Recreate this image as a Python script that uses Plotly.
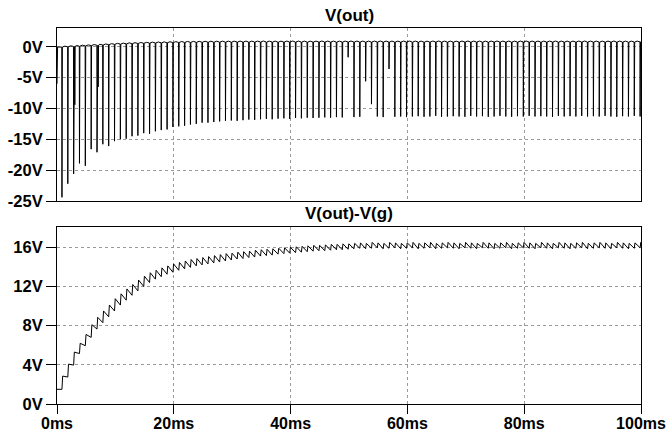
import plotly.graph_objects as go

# ---------------- data ----------------
period_ms = 1.0          # switching period
first_spike_ms = 0.85    # time of first switching event
n_cycles = 100

x_tickvals = [0, 20, 40, 60, 80, 100]
x_ticktext = ["0ms", "20ms", "40ms", "60ms", "80ms", "100ms"]
top_tickvals = [0, -5, -10, -15, -20, -25]
top_ticktext = ["0V", "-5V", "-10V", "-15V", "-20V", "-25V"]
bot_tickvals = [0, 4, 8, 12, 16]
bot_ticktext = ["0V", "4V", "8V", "12V", "16V"]

# V(out): value at t=0, spike minimum and top level per cycle
vout_start = -6.0
vout_min = [
    -24.4, -22.2, -20.6, -18.9, -19.3, -16.6, -17.1, -15.8, -16.1, -15.3,
    -15.0, -14.9, -14.5, -14.4, -14.0, -14.1, -13.7, -13.5, -13.4, -13.0,
    -12.9, -12.8, -12.6, -12.5, -12.3, -12.3, -12.2, -12.1, -12.0, -11.95,
    -12.0, -11.9, -11.8, -11.85, -11.75, -11.7, -11.75, -11.65, -11.6, -11.7,
    -11.55, -11.6, -11.5, -11.55, -11.5, -11.45, -11.5, -11.4, -11.45, -1.7,
    -11.4, -11.35, -5.6, -9.3, -11.3, -11.4, -3.6, -11.35, -11.3, -11.4,
    -11.3, -11.25, -11.35, -11.3, -11.2, -11.35, -11.3, -11.25, -11.3, -11.35,
    -11.2, -11.3, -11.25, -11.35, -11.3, -11.2, -11.3, -11.35, -11.25, -11.3,
    -11.2, -11.3, -11.25, -11.3, -11.35, -11.2, -11.3, -11.25, -11.3, -11.2,
    -11.3, -11.25, -11.3, -11.2, -11.3, -11.35, -11.25, -11.3, -11.2, -11.3,
]
vout_top = [
    -0.05, 0.0, 0.05, 0.1, 0.15, 0.2, 0.25, 0.3, 0.35, 0.4,
    0.44, 0.48, 0.51, 0.54, 0.57, 0.6, 0.62, 0.64, 0.66, 0.68,
    0.7, 0.71, 0.72, 0.73, 0.74, 0.75, 0.75, 0.76, 0.76, 0.76,
    0.77, 0.77, 0.76, 0.77, 0.78, 0.77, 0.77, 0.76, 0.77, 0.78,
    0.77, 0.77, 0.76, 0.77, 0.78, 0.77, 0.77, 0.76, 0.77, 0.78,
    0.77, 0.77, 0.76, 0.77, 0.78, 0.77, 0.77, 0.76, 0.77, 0.78,
    0.77, 0.77, 0.76, 0.77, 0.78, 0.77, 0.77, 0.76, 0.77, 0.78,
    0.77, 0.77, 0.76, 0.77, 0.78, 0.77, 0.77, 0.76, 0.77, 0.78,
    0.77, 0.77, 0.76, 0.77, 0.78, 0.77, 0.77, 0.76, 0.77, 0.78,
    0.77, 0.77, 0.76, 0.77, 0.78, 0.77, 0.77, 0.76, 0.77, 0.78,
]
# extra partial dips drawn right after a few early spikes (cycle -> V)
vout_second_dip = {2: -9.4, 6: -6.5}

# V(out)-V(g): start value, value just before / just after each switching event
diff_start = 1.5
diff_trough = [
    1.5, 2.75, 3.97, 5.15, 5.95, 6.8, 7.65, 8.3, 8.9, 9.5,
    10.1, 10.6, 11.1, 11.55, 12.0, 12.4, 12.75, 13.0, 13.25, 13.45,
    13.65, 13.8, 13.95, 14.1, 14.2, 14.3, 14.4, 14.5, 14.6, 14.7,
    14.8, 14.85, 14.95, 15.0, 15.1, 15.15, 15.2, 15.3, 15.35, 15.4,
    15.45, 15.5, 15.55, 15.6, 15.65, 15.65, 15.7, 15.75, 15.75, 15.8,
    15.85, 15.9, 15.85, 15.9, 15.95, 15.85, 15.9, 15.95, 15.85, 15.9,
    15.95, 15.85, 15.9, 15.95, 15.85, 15.9, 15.95, 15.9, 15.85, 15.95,
    15.9, 15.85, 15.95, 15.9, 15.85, 15.9, 15.95, 15.85, 15.9, 15.95,
    15.9, 15.85, 15.95, 15.9, 15.85, 15.95, 15.9, 15.85, 15.9, 15.95,
    15.85, 15.9, 15.95, 15.9, 15.85, 15.95, 15.9, 15.85, 15.9, 15.95,
]
diff_peak = [
    2.85, 4.07, 5.3, 6.2, 7.1, 8.1, 8.85, 9.5, 10.1, 10.75,
    11.25, 11.75, 12.2, 12.65, 13.05, 13.4, 13.65, 13.9, 14.1, 14.3,
    14.45, 14.6, 14.75, 14.85, 14.95, 15.05, 15.15, 15.25, 15.35, 15.4,
    15.5, 15.55, 15.6, 15.7, 15.75, 15.8, 15.85, 15.9, 15.95, 16.0,
    16.05, 16.1, 16.15, 16.2, 16.2, 16.25, 16.3, 16.3, 16.35, 16.35,
    16.4, 16.45, 16.4, 16.5, 16.45, 16.4, 16.5, 16.45, 16.4, 16.45,
    16.5, 16.4, 16.45, 16.5, 16.4, 16.45, 16.5, 16.45, 16.4, 16.5,
    16.45, 16.4, 16.5, 16.45, 16.4, 16.45, 16.5, 16.4, 16.45, 16.5,
    16.45, 16.4, 16.5, 16.45, 16.4, 16.5, 16.45, 16.4, 16.45, 16.5,
    16.4, 16.45, 16.5, 16.45, 16.4, 16.5, 16.45, 16.4, 16.45, 16.5,
]
diff_end = 16.3

# ---------------- build waveforms ----------------
t_out, v_out = [0.0, 0.1], [vout_start, vout_top[0]]
t_diff, v_diff = [0.0], [diff_start]
for k in range(n_cycles):
    tk = first_spike_ms + k * period_ms
    top = vout_top[k]
    t_out += [tk - 0.03, tk, tk + 0.07]
    v_out += [top, vout_min[k], top]
    if k in vout_second_dip:
        t_out += [tk + 0.15, tk + 0.2, tk + 0.26]
        v_out += [top, vout_second_dip[k], top]
    t_out += [tk + 0.5]
    v_out += [top + 0.15]
    t_diff += [tk, tk + 0.12]
    v_diff += [diff_trough[k], diff_peak[k]]
t_out.append(100.0)
v_out.append(vout_top[-1])
t_diff.append(100.0)
v_diff.append(diff_end)

# ---------------- figure ----------------
W, H = 667, 435
xl, xr = 57, 641          # plot area left/right (px)
yt, yb = 28, 404          # plot area top/bottom (px)
top_panel_bottom = 201
bot_panel_top = 227
area_h = yb - yt

def fy(p):
    """pixel row -> fraction of the plot area (0 = bottom)"""
    return (yb - p) / area_h

fig = go.Figure()
fig.add_trace(go.Scatter(x=t_out, y=v_out, mode="lines", xaxis="x", yaxis="y",
                         line=dict(color="#000000", width=1), hoverinfo="skip"))
fig.add_trace(go.Scatter(x=t_diff, y=v_diff, mode="lines", xaxis="x2", yaxis="y2",
                         line=dict(color="#000000", width=1), hoverinfo="skip"))

tick_font = dict(family="Liberation Sans, Arial, sans-serif", size=16.5, color="#000000", weight="bold")
xtick_font = dict(family="Liberation Sans, Arial, sans-serif", size=16, color="#000000", weight="bold")
grid = dict(showgrid=True, gridcolor="#9a9a9a", gridwidth=1, griddash="3px,3px")
frame = dict(showline=True, linecolor="#000000", linewidth=1, mirror=True,
             zeroline=False, automargin=False)

fig.update_layout(
    width=W, height=H,
    margin=dict(l=xl, r=W - xr, t=yt, b=H - yb, autoexpand=False),
    paper_bgcolor="white", plot_bgcolor="white", showlegend=False,
    xaxis=dict(domain=[0, 1], range=[0, 100], anchor="y",
               tickvals=x_tickvals, ticktext=x_ticktext, showticklabels=False,
               ticks="", **grid, **frame),
    yaxis=dict(domain=[fy(top_panel_bottom), 1], range=[-25, 3.04], anchor="x",
               tickvals=top_tickvals, ticktext=top_ticktext, ticks="outside",
               ticklen=10, tickcolor="#000000", tickwidth=1, tickfont=tick_font,
               **grid, **frame),
    xaxis2=dict(domain=[0, 1], range=[0, 100], anchor="y2",
                tickvals=x_tickvals, ticktext=x_ticktext, ticks="outside",
                ticklen=9, tickcolor="#000000", tickwidth=1, tickfont=xtick_font,
                ticklabelstandoff=-4, **grid, **frame),
    yaxis2=dict(domain=[0, fy(bot_panel_top)], range=[0, 18.07], anchor="x2",
                tickvals=bot_tickvals, ticktext=bot_ticktext, ticks="outside",
                ticklen=10, tickcolor="#000000", tickwidth=1, tickfont=tick_font,
                **grid, **frame),
)

title_font = dict(family="Liberation Sans, Arial, sans-serif", size=17, color="#000000", weight="bold")
fig.add_annotation(x=0.5, y=fy(15), xref="paper", yref="paper", text="V(out)",
                   showarrow=False, font=title_font, xanchor="center", yanchor="middle")
fig.add_annotation(x=0.5, y=fy(213), xref="paper", yref="paper", text="V(out)-V(g)",
                   showarrow=False, font=title_font, xanchor="center", yanchor="middle")

fig.write_html("out.html")
